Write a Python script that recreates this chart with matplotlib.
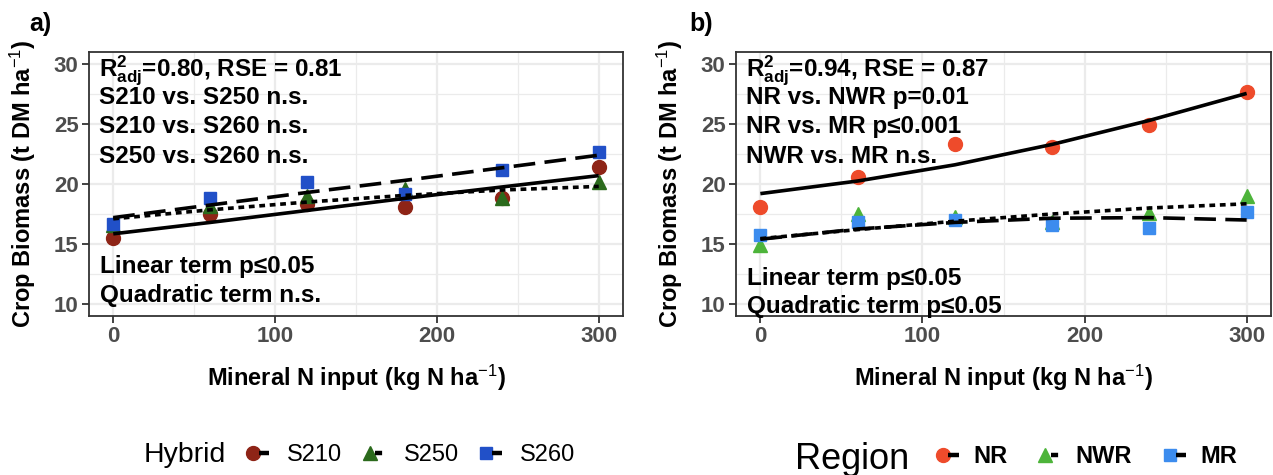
import matplotlib
matplotlib.use("Agg")
import matplotlib.pyplot as plt
from matplotlib.lines import Line2D
from matplotlib.legend_handler import HandlerTuple

plt.rcParams['font.family'] = ['Liberation Sans', 'DejaVu Sans']
plt.rcParams['mathtext.fontset'] = 'custom'
plt.rcParams['mathtext.rm'] = 'Liberation Sans'
plt.rcParams['mathtext.bf'] = 'Liberation Sans:bold'
plt.rcParams['mathtext.it'] = 'Liberation Sans:italic'

# N rates
n_input = [0, 60, 120, 180, 240, 300]

# panel a - hybrids
hybrids = ["S210", "S250", "S260"]
s210_obs = [15.5, 17.5, 18.3, 18.05, 18.8, 21.45]
s250_obs = [16.55, 18.2, 19.0, 19.6, 18.85, 20.2]
s260_obs = [16.65, 18.8, 20.15, 19.2, 21.15, 22.7]
s210_fit = [15.85, 16.8, 17.8, 18.8, 19.75, 20.7]
s250_fit = [17.1, 17.85, 18.5, 19.05, 19.5, 19.8]
s260_fit = [17.2, 18.25, 19.3, 20.3, 21.35, 22.4]

# panel b - regions
regions = ["NR", "NWR", "MR"]
nr_obs = [18.1, 20.6, 23.3, 23.1, 24.9, 27.7]
nwr_obs = [14.9, 17.5, 17.25, 16.8, 17.6, 19.0]
mr_obs = [15.75, 16.8, 17.0, 16.6, 16.3, 17.7]
nr_fit = [19.2, 20.25, 21.6, 23.3, 25.3, 27.55]
nwr_fit = [15.45, 16.2, 16.9, 17.5, 18.0, 18.35]
mr_fit = [15.4, 16.25, 16.8, 17.15, 17.2, 17.0]

stats_a = [r"$\mathbf{R^2_{adj}}$=0.80, RSE = 0.81", "S210 vs. S250 n.s.",
           "S210 vs. S260 n.s.", "S250 vs. S260 n.s."]
terms_a = ["Linear term p≤0.05", "Quadratic term n.s."]
stats_b = [r"$\mathbf{R^2_{adj}}$=0.94, RSE = 0.87", "NR vs. NWR p=0.01",
           "NR vs. MR p≤0.001", "NWR vs. MR n.s."]
terms_b = ["Linear term p≤0.05", "Quadratic term p≤0.05"]

markers = ['o', '^', 's']
msizes = [10, 10.5, 8.5]
dashes = [None, (1.6, 1.3), (6, 2.6)]
cols_a = ['#8E2416', '#2B6A1C', '#2150C8']
cols_b = ['#EE4B2B', '#4DB43A', '#3C8CEE']

fig = plt.figure(figsize=(12.73, 4.75), dpi=100)
ax_a = fig.add_axes([0.0699, 0.3347, 0.4195, 0.5558])
ax_b = fig.add_axes([0.5782, 0.3347, 0.4202, 0.5558])


def draw_panel(ax, obs, fits, cols, stats, terms, terms_y):
    for i in range(3):
        ax.plot(n_input, obs[i], linestyle='none', marker=markers[i],
                ms=msizes[i], color=cols[i], mec=cols[i], zorder=3)
    for i in range(3):
        ln, = ax.plot(n_input, fits[i], color='black', lw=2.6, zorder=4,
                      solid_capstyle='butt', dash_capstyle='butt')
        if dashes[i] is not None:
            ln.set_dashes(dashes[i])
    ax.set_xlim(-15, 315)
    ax.set_ylim(9, 31)
    ax.set_xticks([0, 100, 200, 300])
    ax.set_xticks([50, 150, 250], minor=True)
    ax.set_yticks([10, 15, 20, 25, 30])
    ax.set_yticks([12.5, 17.5, 22.5, 27.5], minor=True)
    ax.grid(which='major', color='#EBEBEB', lw=1.6, zorder=0)
    ax.grid(which='minor', color='#EBEBEB', lw=0.9, zorder=0)
    ax.set_axisbelow(True)
    ax.tick_params(which='minor', length=0)
    ax.tick_params(which='major', length=5, width=1.3, color='#333333',
                   labelsize=16, labelcolor='#4D4D4D', pad=2.5)
    for lab in ax.get_xticklabels() + ax.get_yticklabels():
        lab.set_fontweight('bold')
    for sp in ax.spines.values():
        sp.set_color('#333333')
        sp.set_linewidth(1.3)
    ax.set_xlabel(r"Mineral N input (kg N ha$^{-1}$)", fontsize=17, fontweight='bold')
    ax.set_ylabel(r"Crop Biomass (t DM ha$^{-1}$)", fontsize=17, fontweight='bold')
    ax.xaxis.set_label_coords(0.5, -0.235)
    ax.xaxis.label.set_va('center')
    ax.yaxis.set_label_coords(-0.124, 0.5)
    ax.yaxis.label.set_va('center')
    for txt, y in zip(stats, [0.908, 0.803, 0.693, 0.580]):
        ax.text(0.019, y, txt, transform=ax.transAxes, fontsize=17.5,
                fontweight='bold', va='baseline', ha='left', zorder=5)
    for txt, y in zip(terms, terms_y):
        ax.text(0.021, y, txt, transform=ax.transAxes, fontsize=17.5,
                fontweight='bold', va='baseline', ha='left', zorder=5,
                clip_on=False)


draw_panel(ax_a, [s210_obs, s250_obs, s260_obs], [s210_fit, s250_fit, s260_fit],
           cols_a, stats_a, terms_a, [0.163, 0.053])
draw_panel(ax_b, [nr_obs, nwr_obs, mr_obs], [nr_fit, nwr_fit, mr_fit],
           cols_b, stats_b, terms_b, [0.117, 0.011])

fig.text(0.032, 0.949, "a)", fontsize=18, fontweight='bold', ha='center', va='center')
fig.text(0.551, 0.949, "b)", fontsize=18, fontweight='bold', ha='center', va='center')


def make_handles(cols):
    hs = []
    for i in range(3):
        m = Line2D([], [], linestyle='none', marker=markers[i], ms=msizes[i],
                   color=cols[i], mec=cols[i])
        ln = Line2D([], [], color='black', lw=3.2, solid_capstyle='butt')
        if dashes[i] is not None:
            ln.set_dashes(dashes[i])
        hs.append((m, ln))
    return hs


leg_a = fig.legend(make_handles(cols_a), hybrids, loc='center left',
                   bbox_to_anchor=(0.1948, 0.042), ncol=3, frameon=False,
                   borderpad=0, borderaxespad=0, fontsize=17,
                   handlelength=0.9, handletextpad=0.75, columnspacing=0.95,
                   handler_map={tuple: HandlerTuple(ndivide=None)})
fig.text(0.113, 0.042, "Hybrid", fontsize=20.5, ha='left', va='center')

leg_b = fig.legend(make_handles(cols_b), regions, loc='center left',
                   bbox_to_anchor=(0.7365, 0.038), ncol=3, frameon=False,
                   borderpad=0, borderaxespad=0,
                   prop={'size': 17, 'weight': 'bold'},
                   handlelength=0.9, handletextpad=0.6, columnspacing=1.4,
                   handler_map={tuple: HandlerTuple(ndivide=None)})
fig.text(0.6245, 0.033, "Region", fontsize=26, ha='left', va='center')

fig.savefig("out.png", dpi=100)
